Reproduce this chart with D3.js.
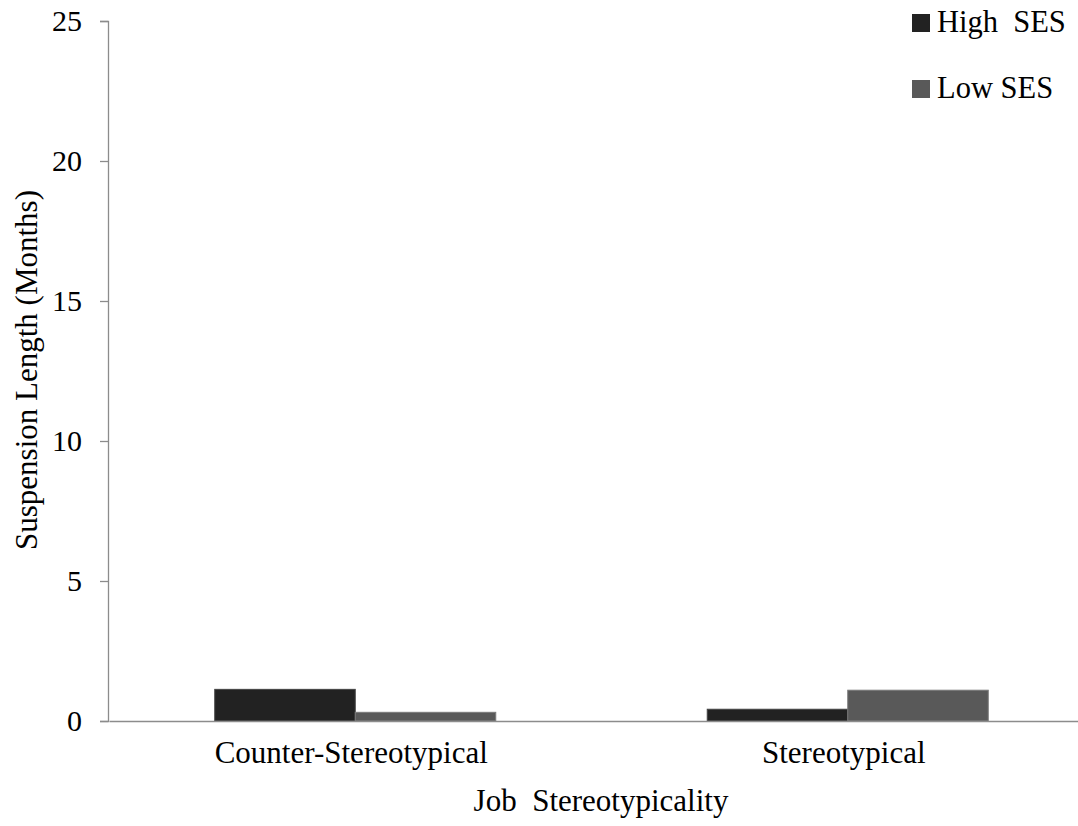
<!DOCTYPE html>
<html>
<head>
<meta charset="utf-8">
<script src="https://cdn.jsdelivr.net/npm/d3@7"></script>
<style>
  html, body { margin: 0; padding: 0; background: #fff; }
  svg text { font-family: "Liberation Serif", "Times New Roman", serif; fill: #000; white-space: pre; }
</style>
</head>
<body>
<svg id="chart" width="1078" height="826"></svg>
<script>
const categories = ["Counter-Stereotypical", "Stereotypical"];
const seriesNames = ["High  SES", "Low SES"];
const highSES = [1.13, 0.42];
const lowSES = [0.31, 1.10];
const yTicks = [0, 5, 10, 15, 20, 25];
const colors = ["#222222", "#595959"];
const strokes = ["#444444", "#7a7a7a"];

const svg = d3.select("#chart");
const seriesValues = [highSES, lowSES];

const y = d3.scaleLinear().domain([0, 25]).range([721, 21]);
const x0 = d3.scaleBand().domain(categories).range([109, 1094]).paddingInner(0).paddingOuter(0);
const x1 = d3.scaleBand().domain(seriesNames).range([0, x0.bandwidth()]).paddingInner(0).paddingOuter(0.7526);

// y axis
const yAxis = d3.axisLeft(y).tickValues(yTicks).tickSize(8).tickPadding(18).tickFormat(d3.format("d"));
const gy = svg.append("g").attr("transform", "translate(108,0)").call(yAxis);
gy.select(".domain").attr("stroke", "#8c8c8c").attr("stroke-width", 1.3);
gy.selectAll(".tick line").attr("stroke", "#8c8c8c").attr("stroke-width", 1.3);
gy.selectAll(".tick text").style("font-size", "30px").style("font-family", "Liberation Serif, Times New Roman, serif").attr("fill", "#000");

// bars
categories.forEach((c, ci) => {
  seriesNames.forEach((s, si) => {
    const v = seriesValues[si][ci];
    svg.append("rect")
      .attr("x", x0(c) + x1(s))
      .attr("y", y(v))
      .attr("width", x1.bandwidth())
      .attr("height", y(0) - y(v))
      .attr("fill", colors[si])
      .attr("stroke", strokes[si])
      .attr("stroke-width", 1);
  });
});

// x axis
const xAxis = d3.axisBottom(x0).tickSize(0).tickPadding(20);
const gx = svg.append("g").attr("transform", "translate(0,721)").call(xAxis);
gx.select(".domain").attr("stroke", "#8c8c8c").attr("stroke-width", 1.6);
gx.selectAll(".tick text").style("font-size", "31px").style("font-family", "Liberation Serif, Times New Roman, serif").attr("fill", "#000").attr("dx", -4);

// axis titles
svg.append("text")
  .attr("x", 601).attr("y", 811)
  .attr("text-anchor", "middle")
  .style("font-size", "31px")
  .text("Job  Stereotypicality");

svg.append("text")
  .attr("transform", "translate(37,370) rotate(-90)")
  .attr("text-anchor", "middle")
  .style("font-size", "31px")
  .text("Suspension Length (Months)");

// legend
const legend = svg.append("g");
seriesNames.forEach((s, i) => {
  const ly = 32 + i * 66;
  legend.append("rect").attr("x", 912).attr("y", ly - 18).attr("width", 18).attr("height", 18).attr("fill", colors[i]);
  legend.append("text").attr("x", 937).attr("y", ly).style("font-size", "30.5px").text(s);
});
</script>
</body>
</html>
